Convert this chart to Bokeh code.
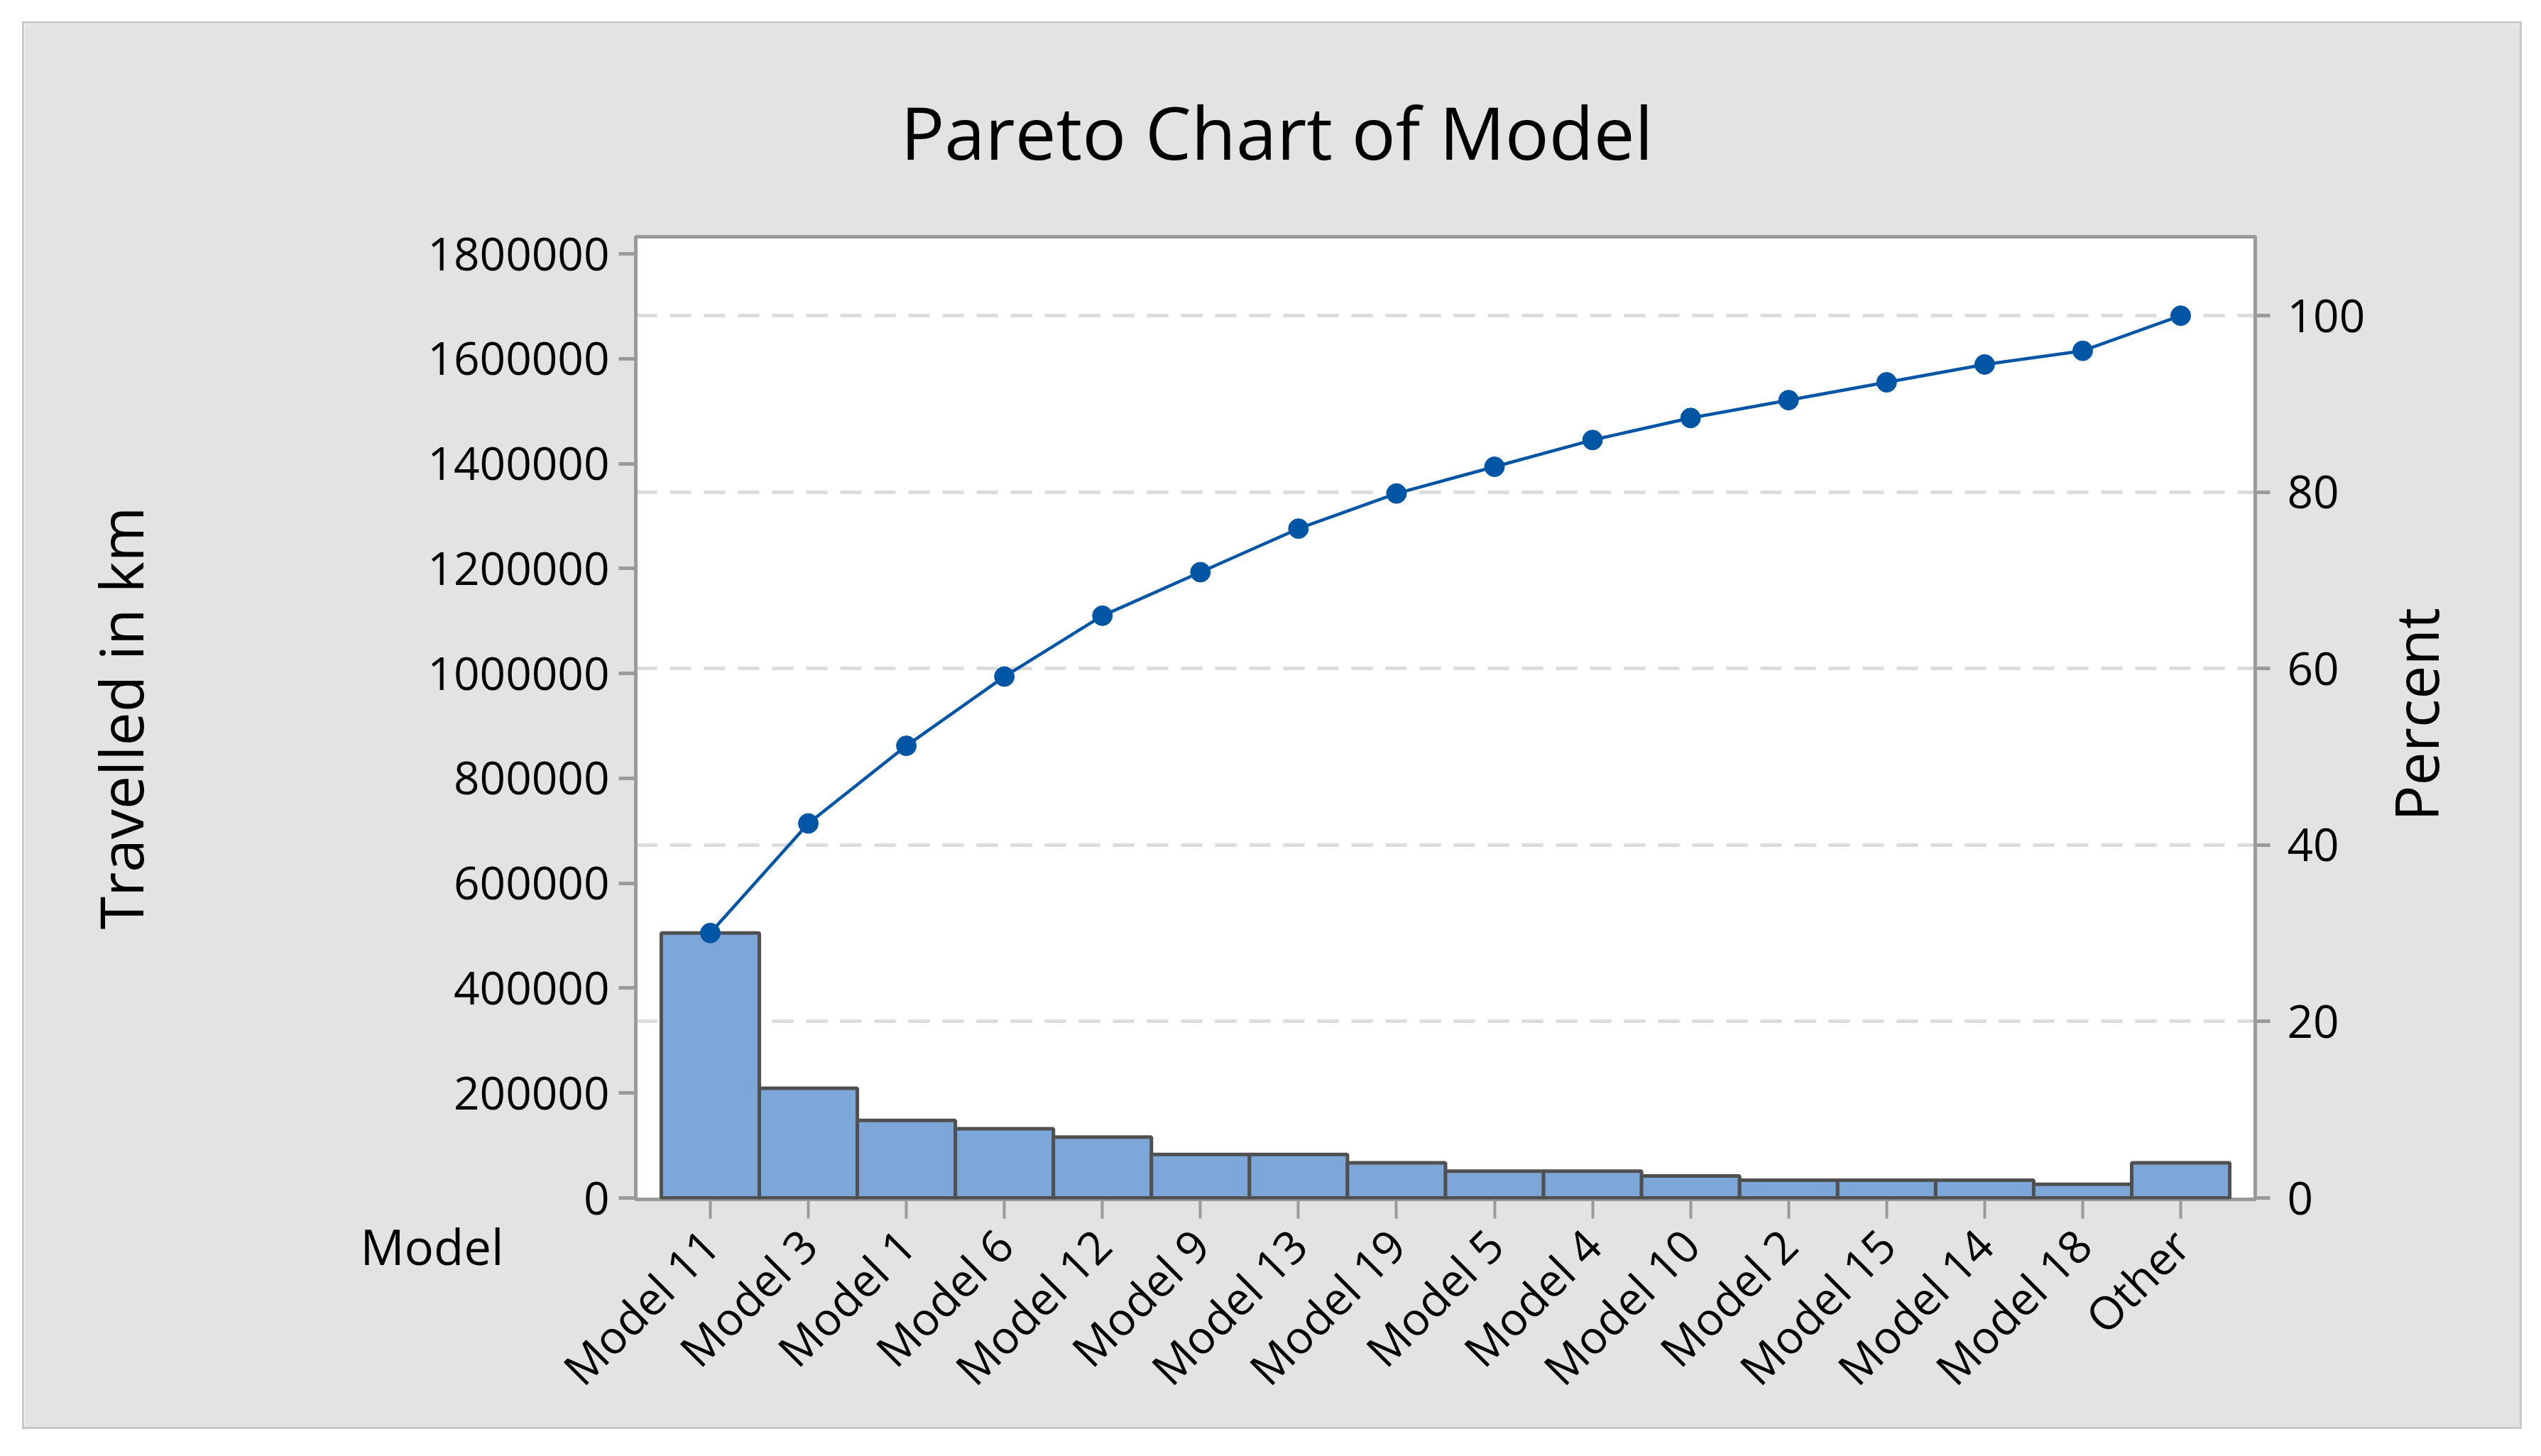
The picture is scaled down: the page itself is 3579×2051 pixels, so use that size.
import math
import numpy as np
from bokeh.plotting import figure
from bokeh.layouts import column, row
from bokeh.models import (FactorRange, Range1d, LinearAxis, FixedTicker, Grid,
                          Label, BasicTickFormatter, ColumnDataSource, Spacer)
from bokeh.embed import file_html
from bokeh.resources import INLINE

# ---------------- data ----------------
models = ["Model 11", "Model 3", "Model 1", "Model 6", "Model 12", "Model 9",
          "Model 13", "Model 19", "Model 5", "Model 4", "Model 10", "Model 2",
          "Model 15", "Model 14", "Model 18", "Other"]
travelled_km = [505000, 209000, 148000, 132000, 116000, 83000,
                83000, 67000, 51000, 51000, 42000, 34000,
                34000, 34000, 26000, 67000]
left_ticks = [0, 200000, 400000, 600000, 800000, 1000000,
              1200000, 1400000, 1600000, 1800000]
pct_ticks = [0, 20, 40, 60, 80, 100]
pct_grid = [20, 40, 60, 80, 100]
title_text = "Pareto Chart of Model"
y_label = "Travelled in km"
y2_label = "Percent"
x_label = "Model"

Y_START, Y_END = -2700, 1832500

# ---------------- derived ----------------
total = float(sum(travelled_km))
cum_pct = list(np.cumsum(travelled_km) / total * 100.0)

FONT = "Open Sans"
GRAY_AX = "#9a9a9a"

src = ColumnDataSource(dict(model=models, km=travelled_km, cum=cum_pct))

p = figure(
    width=3515, height=1977,
    x_range=FactorRange(factors=models, range_padding=0.0325),
    y_range=Range1d(Y_START, Y_END),
    output_backend="svg", toolbar_location=None,
    min_border_left=861, min_border_right=373,
    min_border_top=300, min_border_bottom=321,
    background_fill_color="white", border_fill_color="#e3e3e3",
)
p.styles = {"outline": "3px solid #c8c8c8"}
p.title.text = ""

p.outline_line_color = GRAY_AX
p.outline_line_width = 5
p.xgrid.visible = False
p.ygrid.visible = False

p.extra_y_ranges = {"pct": Range1d(Y_START / total * 100.0, Y_END / total * 100.0)}

# percent gridlines (dashed)
grid = Grid(dimension=1, ticker=FixedTicker(ticks=pct_grid), y_range_name="pct",
            grid_line_color="#dcdcdc", grid_line_width=5, grid_line_dash="30 18")
p.add_layout(grid)

# bars
p.vbar(x="model", top="km", bottom=0, width=1.0, source=src,
       fill_color="#7ea7d9", line_color="#505050", line_width=5)

# cumulative line
p.line(x="model", y="cum", source=src, y_range_name="pct",
       line_color="#0055a5", line_width=4.5)
p.scatter(x="model", y="cum", source=src, y_range_name="pct", marker="circle",
          size=28, fill_color="#0055a5", line_color="#0055a5")

# left axis
la = p.yaxis[0]
la.ticker = FixedTicker(ticks=left_ticks)
la.formatter = BasicTickFormatter(use_scientific=False)
la.axis_line_color = GRAY_AX
la.axis_line_width = 5
la.major_tick_line_color = GRAY_AX
la.major_tick_line_width = 5
la.major_tick_out = 24
la.major_tick_in = 0
la.minor_tick_line_color = None
la.major_label_standoff = 13
la.major_label_text_font = FONT
la.major_label_text_font_size = "64px"
la.major_label_text_color = "black"

# right axis
ra = LinearAxis(y_range_name="pct", ticker=FixedTicker(ticks=pct_ticks))
ra.axis_line_color = GRAY_AX
ra.axis_line_width = 5
ra.major_tick_line_color = GRAY_AX
ra.major_tick_line_width = 5
ra.major_tick_out = 21
ra.major_tick_in = 0
ra.minor_tick_line_color = None
ra.major_label_standoff = 24
ra.major_label_text_font = FONT
ra.major_label_text_font_size = "64px"
ra.major_label_text_color = "black"
p.add_layout(ra, "right")

# bottom axis
xa = p.xaxis[0]
xa.axis_line_color = None
xa.major_tick_line_color = GRAY_AX
xa.major_tick_line_width = 4
xa.major_tick_out = 27
xa.major_tick_in = 0
xa.major_label_orientation = math.pi / 4
xa.major_label_standoff = 26
xa.major_label_text_font = FONT
xa.major_label_text_font_size = "64px"
xa.major_label_text_color = "black"

# texts in side panels (screen units relative to their panel box)
def add_text(side, x, y, text, size, align="left", baseline="alphabetic", angle=0.0):
    p.add_layout(Label(x=x, y=y, x_units="screen", y_units="screen", angle=angle,
                       text=text, text_font=FONT, text_font_size=size,
                       text_align=align, text_baseline=baseline,
                       text_color="black"), side)

add_text("above", 903, 149, title_text, "103px", align="center")
add_text("left", -315, 678, y_label, "84px", align="center", angle=math.pi / 2)
add_text("left", 225, -65, x_label, "69px", align="left")
add_text("right", 68, 683, y2_label, "84px", align="center", angle=math.pi / 2)

layout = column(Spacer(height=33), row(Spacer(width=34), p))
open("out.html", "w").write(file_html(layout, INLINE))
